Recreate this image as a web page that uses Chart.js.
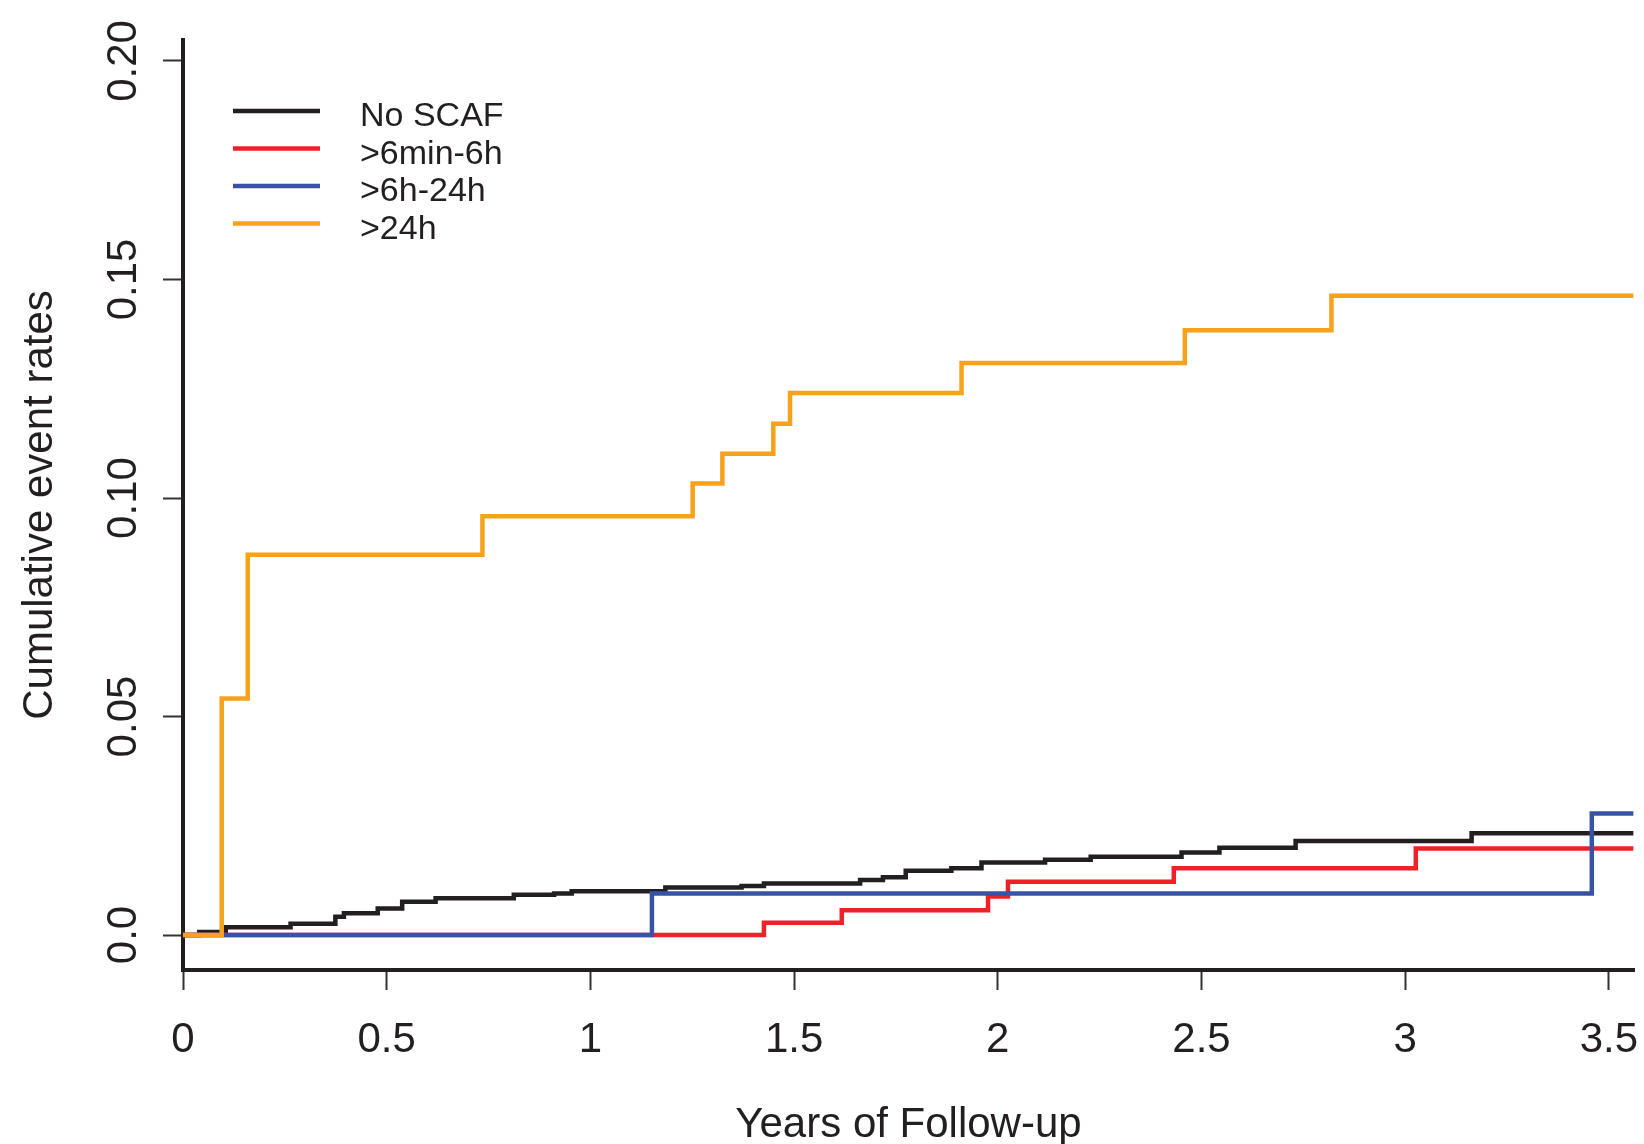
<!DOCTYPE html>
<html>
<head>
<meta charset="utf-8">
<title>Cumulative event rates</title>
<script src="https://cdn.jsdelivr.net/npm/chart.js@4.4.1/dist/chart.umd.min.js"></script>
<style>
    html, body { margin: 0; padding: 0; background: #ffffff; }
    #wrap { width: 1644px; height: 1144px; }
</style>
</head>
<body>
<div id="wrap"><canvas id="kmChart" width="1644" height="1144"></canvas></div>
<script>
(function () {

// -------------------------------------------------------------------------------------------------------
// data (years of follow-up -> cumulative event rate after the step)

var seriesNames = ["No SCAF", ">6min-6h", ">6h-24h", ">24h"];
var seriesColors = ["#231F20", "#EE2127", "#3953A4", "#F8A21C"];

var noScafTimes = [0, 0.04, 0.105, 0.264, 0.374, 0.395, 0.478, 0.538, 0.620, 0.812, 0.911, 0.954, 1.184, 1.371, 1.426, 1.662, 1.718, 1.774, 1.886, 1.960, 2.116, 2.228, 2.451, 2.544, 2.731, 3.163, 3.56];
var noScafRates = [0, 0.0007, 0.0018, 0.0026, 0.0042, 0.0050, 0.0061, 0.0076, 0.0084, 0.0092, 0.0095, 0.0100, 0.0109, 0.0112, 0.0118, 0.0126, 0.0132, 0.0147, 0.0153, 0.0166, 0.0172, 0.0179, 0.0189, 0.0200, 0.0215, 0.0233, 0.0233];

var min6hTimes = [0, 1.426, 1.617, 1.976, 2.025, 2.432, 3.026, 3.56];
var min6hRates = [0, 0.0028, 0.0057, 0.0088, 0.0122, 0.0153, 0.0198, 0.0198];

var h6h24Times = [0, 1.151, 3.458, 3.56];
var h6h24Rates = [0, 0.0095, 0.0278, 0.0278];

var h24Times = [0, 0.095, 0.159, 0.735, 1.251, 1.324, 1.449, 1.490, 1.911, 2.459, 2.819, 3.56];
var h24Rates = [0, 0.0541, 0.0870, 0.0958, 0.1033, 0.1101, 0.1170, 0.1240, 0.1309, 0.1384, 0.1463, 0.1463];

var xTicks = [0, 0.5, 1, 1.5, 2, 2.5, 3, 3.5];
var yTicks = [0, 0.05, 0.10, 0.15, 0.20];
var yTickLabels = ["0.0", "0.05", "0.10", "0.15", "0.20"];

// -------------------------------------------------------------------------------------------------------

var FONT = "'Liberation Sans', Arial, Helvetica, sans-serif";
var INK = "#231F20";

function toPoints(times, rates) {
    var pts = [];
    for (var i = 0; i < times.length; i++) {
        pts.push({ x: times[i], y: rates[i] });
    }
    return pts;
}

function stepSet(idx, times, rates, drawOrder) {
    return {
        label: seriesNames[idx],
        data: toPoints(times, rates),
        borderColor: seriesColors[idx],
        backgroundColor: seriesColors[idx],
        borderWidth: 4.5,
        stepped: 'before',   // jump happens at the event time
        fill: false,
        pointRadius: 0,
        borderJoinStyle: 'miter',
        order: drawOrder
    };
}

// legend inside the plot + rotated y tick labels (R style)
var extrasPlugin = {
    id: 'extras',
    afterDraw: function (chart) {
        var ctx = chart.ctx;
        var yScale = chart.scales.y;

        ctx.save();
        ctx.fillStyle = INK;
        ctx.font = "42px " + FONT;
        ctx.textAlign = "center";
        ctx.textBaseline = "middle";
        for (var i = 0; i < yTicks.length; i++) {
            var py = yScale.getPixelForValue(yTicks[i]);
            ctx.save();
            ctx.translate(124, py);
            ctx.rotate(-Math.PI / 2);
            ctx.fillText(yTickLabels[i], 0, 0);
            ctx.restore();
        }

        // legend
        var ds = chart.data.datasets;
        ctx.font = "34px " + FONT;
        ctx.textAlign = "left";
        ctx.textBaseline = "alphabetic";
        for (var j = 0; j < ds.length; j++) {
            var ly = 111 + j * 37.5;
            ctx.strokeStyle = ds[j].borderColor;
            ctx.lineWidth = 4.5;
            ctx.beginPath();
            ctx.moveTo(233, ly);
            ctx.lineTo(320, ly);
            ctx.stroke();
            ctx.fillStyle = INK;
            ctx.fillText(ds[j].label, 360, ly + 15);
        }
        ctx.restore();
    }
};

var canvas = document.getElementById("kmChart");
var ctx = canvas.getContext("2d");

new Chart(ctx, {
    type: 'line',
    data: {
        datasets: [
            stepSet(0, noScafTimes, noScafRates, 3),
            stepSet(1, min6hTimes, min6hRates, 2),
            stepSet(2, h6h24Times, h6h24Rates, 1),
            stepSet(3, h24Times, h24Rates, 0)
        ]
    },
    options: {
        responsive: false,
        animation: false,
        devicePixelRatio: 1,
        layout: { padding: { top: 40, right: 10, bottom: 0, left: 0 } },
        plugins: {
            legend: { display: false },
            tooltip: { enabled: false }
        },
        scales: {
            x: {
                type: 'linear',
                min: 0,
                max: 3.5616,
                afterBuildTicks: function (scale) {
                    scale.ticks = xTicks.map(function (v) { return { value: v }; });
                },
                afterFit: function (scale) {
                    scale.height = 174;
                    // the "3.5" label may hang over the edge, like the original
                    scale.paddingLeft = 0;
                    scale.paddingRight = 0;
                },
                border: { display: true, color: INK, width: 4 },
                grid: {
                    display: true,
                    drawOnChartArea: false,
                    drawTicks: true,
                    tickLength: 20,
                    tickWidth: 2,
                    tickColor: "#333333"
                },
                ticks: {
                    color: INK,
                    padding: 25,
                    maxRotation: 0,
                    autoSkip: false,
                    font: { family: FONT, size: 42 },
                    callback: function (v) { return String(v); }
                },
                title: {
                    display: true,
                    text: "Years of Follow-up",
                    color: INK,
                    padding: 0,
                    font: { family: FONT, size: 42, lineHeight: 0.9 }
                }
            },
            y: {
                type: 'linear',
                min: -0.008,
                max: 0.2048,
                afterBuildTicks: function (scale) {
                    scale.ticks = yTicks.map(function (v) { return { value: v }; });
                },
                afterFit: function (scale) { scale.width = 183; },
                border: { display: true, color: INK, width: 4 },
                grid: {
                    display: true,
                    drawOnChartArea: false,
                    drawTicks: true,
                    tickLength: 20,
                    tickWidth: 2,
                    tickColor: "#333333"
                },
                ticks: {
                    display: false
                },
                title: {
                    display: true,
                    text: "Cumulative event rates",
                    color: INK,
                    padding: { top: 15, bottom: 0 },
                    font: { family: FONT, size: 42 }
                }
            }
        }
    },
    plugins: [extrasPlugin]
});

// -------------------------------------------------------------------------------------------------------

})();
</script>
</body>
</html>
